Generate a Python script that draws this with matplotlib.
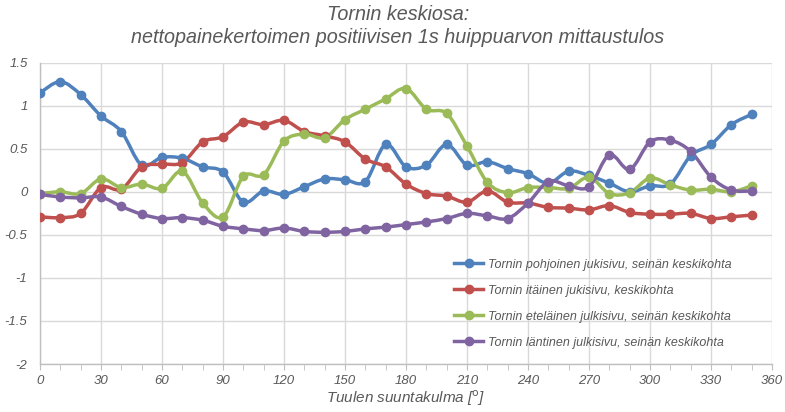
import numpy as np
import matplotlib
matplotlib.use("Agg")
import matplotlib.pyplot as plt
from matplotlib.path import Path
from matplotlib.patches import PathPatch
from matplotlib.lines import Line2D
from matplotlib.ticker import MultipleLocator

plt.rcParams['font.family'] = ['Liberation Sans', 'DejaVu Sans']

# tuulen suuntakulma 0..350 astetta, 10 asteen välein
angle = list(range(0, 360, 10))

pohjoinen = [1.15, 1.28, 1.13, 0.88, 0.70, 0.31, 0.40, 0.39, 0.29, 0.23,
             -0.12, 0.01, -0.03, 0.06, 0.15, 0.14, 0.12, 0.55, 0.29, 0.31,
             0.55, 0.31, 0.35, 0.27, 0.21, 0.10, 0.24, 0.19, 0.10, 0.00,
             0.07, 0.09, 0.42, 0.55, 0.78, 0.90]
itainen = [-0.29, -0.30, -0.25, 0.05, 0.03, 0.29, 0.32, 0.34, 0.58, 0.64,
           0.81, 0.78, 0.83, 0.70, 0.65, 0.58, 0.38, 0.29, 0.09, -0.02,
           -0.05, -0.12, 0.01, -0.12, -0.13, -0.18, -0.19, -0.21, -0.16, -0.24,
           -0.26, -0.26, -0.25, -0.31, -0.29, -0.27]
etelainen = [-0.02, 0.00, -0.02, 0.15, 0.05, 0.09, 0.04, 0.24, -0.13, -0.29,
             0.18, 0.20, 0.59, 0.67, 0.63, 0.84, 0.96, 1.08, 1.20, 0.96,
             0.91, 0.53, 0.11, -0.01, 0.05, 0.05, 0.04, 0.17, -0.02, -0.01,
             0.16, 0.08, 0.02, 0.03, 0.00, 0.07]
lantinen = [-0.03, -0.06, -0.07, -0.06, -0.17, -0.26, -0.31, -0.30, -0.33, -0.40,
            -0.43, -0.45, -0.42, -0.46, -0.47, -0.46, -0.43, -0.41, -0.38, -0.35,
            -0.31, -0.25, -0.28, -0.31, -0.13, 0.12, 0.07, 0.06, 0.43, 0.26,
            0.58, 0.60, 0.47, 0.17, 0.02, 0.01]

labels = ["Tornin pohjoinen jukisivu, seinän keskikohta",
          "Tornin itäinen jukisivu, keskikohta",
          "Tornin eteläinen julkisivu, seinän keskikohta",
          "Tornin läntinen julkisivu, seinän keskikohta"]
colors = ["#4F81BD", "#C0504D", "#9BBB59", "#8064A2"]
txt = "#595959"


def smooth_path(x, y):
    # pehmennetty viiva bezier-käyrinä pisteiden kautta
    p = np.column_stack([x, y]).astype(float)
    n = len(p)
    verts = [p[0]]
    codes = [Path.MOVETO]
    for i in range(n - 1):
        p0 = p[i - 1] if i > 0 else p[i]
        p3 = p[i + 2] if i + 2 < n else p[i + 1]
        c1 = p[i] + (p[i + 1] - p0) / 6.0
        c2 = p[i + 1] - (p3 - p[i]) / 6.0
        verts += [c1, c2, p[i + 1]]
        codes += [Path.CURVE4] * 3
    return Path(verts, codes)


fig = plt.figure(figsize=(7.85, 4.12), dpi=100)
ax = fig.add_axes([0.051, 0.1165, 0.9325, 0.7313])

handles = []
for vals, c, lab in zip([pohjoinen, itainen, etelainen, lantinen], colors, labels):
    ax.add_patch(PathPatch(smooth_path(angle, vals), fill=False, edgecolor=c,
                           lw=2.5, capstyle='round', joinstyle='round', zorder=3))
    ax.plot(angle, vals, 'o', color=c, ms=6, zorder=4)
    handles.append(Line2D([], [], color=c, lw=2.5, marker='o', ms=6))

ax.set_xlim(0, 360)
ax.set_ylim(-2, 1.5)
ax.xaxis.set_major_locator(MultipleLocator(30))
ax.xaxis.set_minor_locator(MultipleLocator(10))
ax.set_yticks(np.arange(-2, 1.51, 0.5))
ax.set_yticklabels(["-2", "-1.5", "-1", "-0.5", "0", "0.5", "1", "1.5"])

ax.grid(True, which='major', color='#d9d9d9', lw=1)
ax.set_axisbelow(True)
for s in ['top', 'right']:
    ax.spines[s].set_visible(False)
for s in ['left', 'bottom']:
    ax.spines[s].set_color('#bfbfbf')
    ax.spines[s].set_linewidth(1)

ax.tick_params(axis='x', which='both', direction='out', length=4,
               color='#bfbfbf', labelsize=9.5, labelcolor=txt, pad=4)
ax.tick_params(axis='y', which='both', length=0, labelsize=9.5,
               labelcolor=txt, pad=9)
for lab in ax.get_xticklabels() + ax.get_yticklabels():
    lab.set_fontstyle('italic')

ax.set_xlabel("Tuulen suuntakulma [$^\\mathrm{o}$]", fontsize=11,
              style='italic', color=txt, labelpad=1)

fig.text(0.507, 0.988, "Tornin keskiosa:\nnettopainekertoimen positiivisen 1s huippuarvon mittaustulos",
         ha='center', va='top', fontsize=14.2, style='italic', color=txt,
         linespacing=1.3)

leg = ax.legend(handles, labels, loc='upper left', bbox_to_anchor=(0.566, 0.35),
                frameon=False, fontsize=9, labelspacing=1.12, handlelength=2.3,
                handletextpad=0.4, borderpad=0, borderaxespad=0)
for t in leg.get_texts():
    t.set_color(txt)
    t.set_fontstyle('italic')

fig.savefig("out.png", dpi=100)
